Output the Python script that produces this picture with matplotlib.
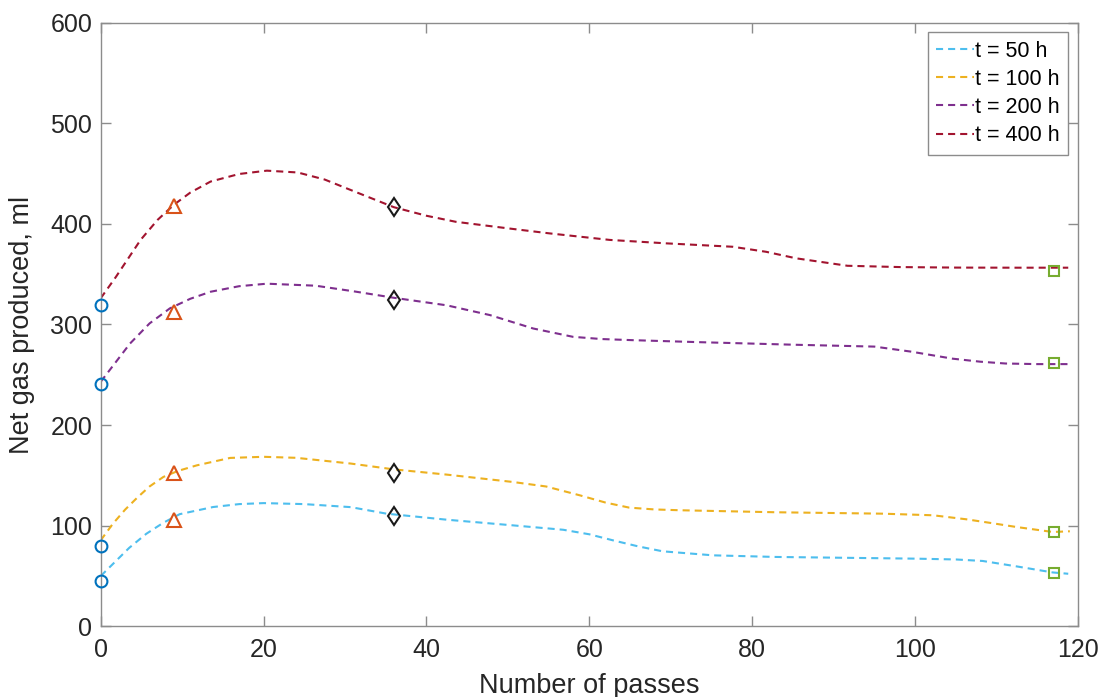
import matplotlib.pyplot as plt

plt.rcParams["font.family"] = ["Liberation Sans", "DejaVu Sans"]

# measured points (x = number of passes, y = net gas in ml)
passes = [0, 9, 36, 117]
gas_50 = [45, 105.5, 109.5, 53]
gas_100 = [79.5, 152, 152.5, 93.5]
gas_200 = [240.5, 312.5, 324, 261.5]
gas_400 = [319.5, 417.5, 416.5, 353.5]

# fitted curves
fit50_x = [0, 1.5, 3.5, 5.6, 7.7, 9.7, 13.8, 17, 20, 25, 30.7, 35.1, 42.5, 50.6,
           56.8, 60, 62.9, 66, 69, 75.2, 82.9, 90, 100.1, 105, 108.3, 112.4, 116.9, 118.8]
fit50_y = [50, 62, 78, 92, 103, 111.5, 118.6, 121.5, 122.5, 121.5, 118.5, 112, 106, 100.4,
           96, 91.5, 85.5, 79.5, 74.6, 70.6, 69, 68.3, 67.3, 66.5, 65, 59.7, 53.6, 52.3]

fit100_x = [0, 1.5, 3, 4.5, 6, 7.7, 9.5, 11.8, 15.9, 20, 24, 30.7, 36, 42.5, 50.6, 54.7,
            58.8, 62, 64.9, 68, 71.1, 82.9, 96, 102.2, 106.3, 109.5, 112.4, 116.9, 119]
fit100_y = [85.5, 102, 116, 128, 139, 148.5, 154.5, 160, 167.4, 168.5, 167.5, 161.8, 156, 150.8, 143.5, 139,
            130.3, 123, 118, 116.2, 115.4, 113.4, 112, 110.4, 106.4, 102.5, 98.8, 93.8, 94.5]

fit200_x = [0, 1.1, 3.6, 6, 8.5, 11, 13.5, 17, 20.4, 26.4, 31, 36, 42.5, 47.8,
            53.1, 58, 61.5, 65.3, 73.5, 85.4, 95, 99.5, 104.6, 108, 111.1, 115, 118.8]
fit200_y = [243, 254.6, 281, 301, 316, 325.5, 332.5, 338, 340.5, 338.5, 333, 326.5, 319, 309.3,
            296, 287.7, 285.5, 284.4, 282.4, 279.8, 278, 273, 266, 263, 261.2, 260.6, 260.6]

fit400_x = [0, 1.85, 4.9, 7, 9, 11, 13.5, 17, 20.4, 24.2, 27.5, 30.7, 36, 40, 43.6,
            50, 55.1, 62.5, 69.4, 77.6, 81.7, 85.4, 91.7, 98.2, 105, 112, 118.8]
fit400_y = [326, 347, 384, 404, 419, 431, 442, 449.5, 452.8, 451, 444, 433.6, 416.5, 408, 402,
            395.5, 390.5, 384, 380.6, 377.2, 372.2, 365.7, 358.3, 357, 356.5, 356.4, 356.4]

fig = plt.figure(figsize=(10.99, 6.97), dpi=100)
ax = fig.add_axes([0.0916, 0.1013, 0.8893, 0.8664])

dash = (0, (3.4, 2.4))
ax.plot(fit50_x, fit50_y, color="#4DBEEE", lw=1.5, ls=dash, label="t = 50 h")
ax.plot(fit100_x, fit100_y, color="#EDB120", lw=1.5, ls=dash, label="t = 100 h")
ax.plot(fit200_x, fit200_y, color="#7E2F8E", lw=1.5, ls=dash, label="t = 200 h")
ax.plot(fit400_x, fit400_y, color="#A2142F", lw=1.5, ls=dash, label="t = 400 h")

# markers: one style per number of passes
styles = [("o", "#0072BD", 8.5), ("^", "#D95319", 9.5), ("d", "#1a1a1a", 9.5), ("s", "#77AC30", 6.5)]
for i, (m, c, ms) in enumerate(styles):
    ys = [gas_50[i], gas_100[i], gas_200[i], gas_400[i]]
    ax.plot([passes[i]] * 4, ys, ls="none", marker=m, ms=ms, mfc="none",
            mec=c, mew=1.5, clip_on=False, zorder=5)

ax.set_xlim(0, 120)
ax.set_ylim(0, 600)
ax.set_xticks(range(0, 121, 20))
ax.set_yticks(range(0, 601, 100))
ax.tick_params(direction="in", length=7, width=1, color="#8c8c8c",
               labelsize=18, labelcolor="#262626", top=True, right=True)
ax.tick_params(axis="x", pad=8)
ax.tick_params(axis="y", pad=6)
for s in ax.spines.values():
    s.set_color("#8c8c8c")
    s.set_linewidth(1)

ax.set_xlabel("Number of passes", fontsize=19.5, color="#262626", labelpad=8)
ax.set_ylabel("Net gas produced, ml", fontsize=19.5, color="#262626", labelpad=11)

leg = ax.legend(loc="upper right", fontsize=15.5, handlelength=1.75, handletextpad=0.05,
                labelspacing=0.33, borderpad=0.4, borderaxespad=0.45, fancybox=False,
                framealpha=1, edgecolor="#8c8c8c")
leg.get_frame().set_linewidth(1)

fig.savefig("out.png", dpi=100)
